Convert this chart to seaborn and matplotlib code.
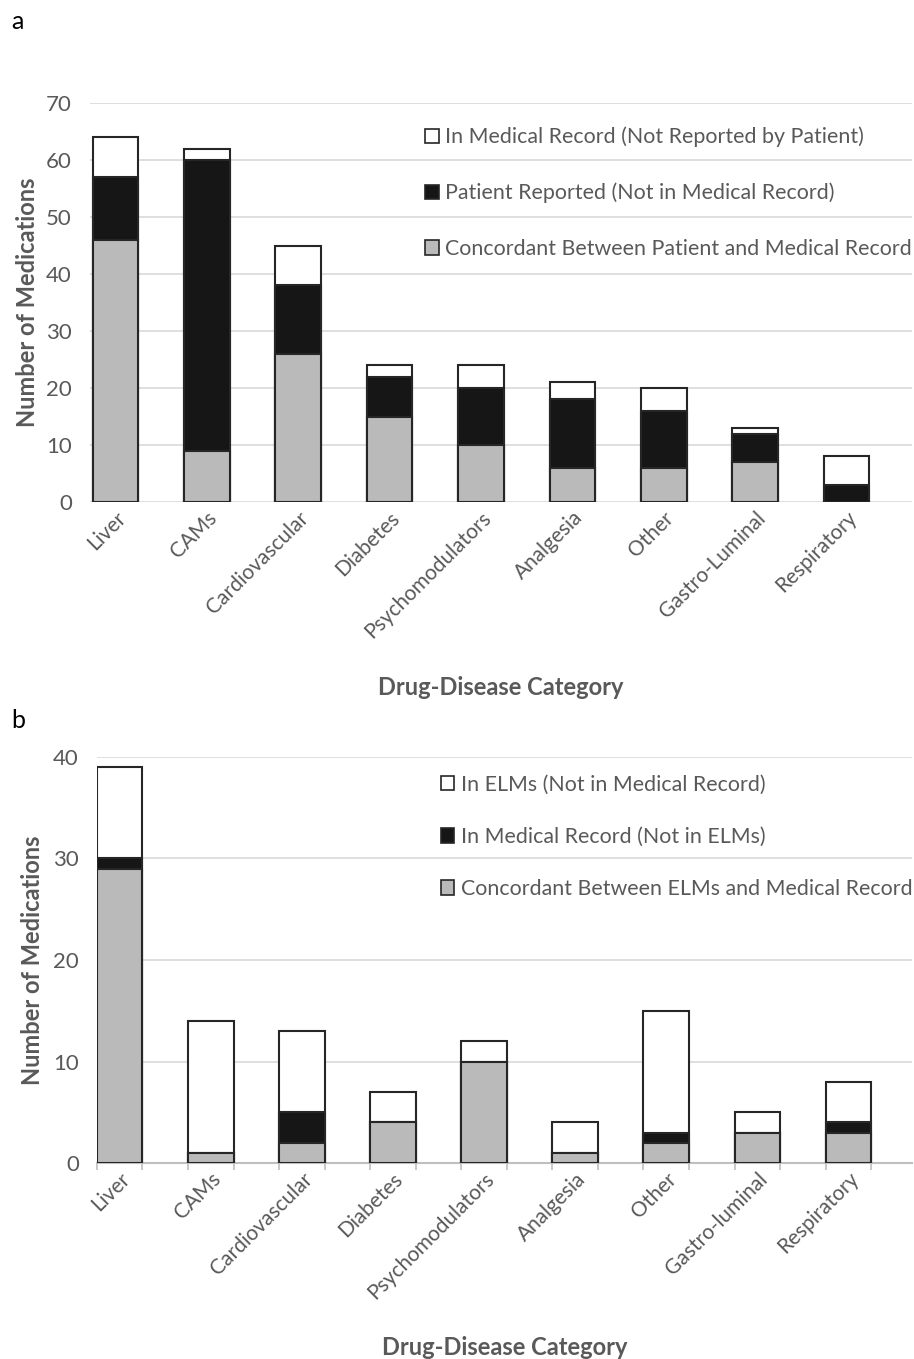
import matplotlib
matplotlib.use("Agg")
import matplotlib.pyplot as plt
import seaborn as sns
import pandas as pd
from matplotlib.patches import Patch

categories_a = ["Liver", "CAMs", "Cardiovascular", "Diabetes", "Psychomodulators",
                "Analgesia", "Other", "Gastro-Luminal", "Respiratory"]
concordant_a = [46, 9, 26, 15, 10, 6, 6, 7, 0]
patient_only_a = [11, 51, 12, 7, 10, 12, 10, 5, 3]
record_only_a = [7, 2, 7, 2, 4, 3, 4, 1, 5]
labels_a = ["In Medical Record (Not Reported by Patient)",
            "Patient Reported (Not in Medical Record)",
            "Concordant Between Patient and Medical Record"]

categories_b = ["Liver", "CAMs", "Cardiovascular", "Diabetes", "Psychomodulators",
                "Analgesia", "Other", "Gastro-luminal", "Respiratory"]
concordant_b = [29, 1, 2, 4, 10, 1, 2, 3, 3]
record_only_b = [1, 0, 3, 0, 0, 0, 1, 0, 1]
elms_only_b = [9, 13, 8, 3, 2, 3, 12, 2, 4]
labels_b = ["In ELMs (Not in Medical Record)",
            "In Medical Record (Not in ELMs)",
            "Concordant Between ELMs and Medical Record"]

sns.set_theme(style="white")
FONT = ["Lato", "DejaVu Sans"]
plt.rcParams["font.family"] = FONT

GRAY_TXT = "#595959"
C_WHITE, C_BLACK, C_GRAY = "#ffffff", "#161616", "#bababa"
EDGE = "#262626"
FS_TICK = 15
FS_LEG = 15.4
FS_LAB = 17

fig = plt.figure(figsize=(9.14, 13.59), dpi=100)


def draw(ax, cats, base, mid, top, ymax, ystep, xlim, bottom_axis):
    tot = [b + m + t for b, m, t in zip(base, mid, top)]
    bm = [b + m for b, m in zip(base, mid)]
    layers = [(tot, C_WHITE), (bm, C_BLACK), (base, C_GRAY)]
    for vals, col in layers:
        df = pd.DataFrame({"cat": cats, "val": vals})
        sns.barplot(data=df, x="cat", y="val", order=cats, color=col, saturation=1,
                    width=0.5, edgecolor=EDGE, linewidth=1.5, errorbar=None, ax=ax, zorder=3)
    ax.set_ylim(0, ymax)
    ax.set_yticks(range(0, ymax + 1, ystep))
    ax.set_xlim(*xlim)
    ax.yaxis.grid(True, color="#d9d9d9", linewidth=1.2, zorder=0)
    ax.set_axisbelow(True)
    for s in ["top", "right", "left"]:
        ax.spines[s].set_visible(False)
    if bottom_axis:
        ax.spines["bottom"].set_visible(True)
        ax.spines["bottom"].set_color("#bfbfbf")
        ax.spines["bottom"].set_linewidth(1.5)
        ax.set_xticks([i + d for i in range(len(cats)) for d in (-0.25, 0.25)], minor=True)
        ax.tick_params(axis="x", which="minor", bottom=True, length=5, color="#bfbfbf", width=1.2)
    else:
        ax.spines["bottom"].set_visible(False)
    ax.tick_params(axis="x", which="major", length=0, pad=4)
    ax.tick_params(axis="y", length=0, pad=13)
    ax.set_xticks(range(len(cats)))
    ax.set_xticklabels(cats, rotation=45, ha="right", rotation_mode="anchor",
                       fontsize=FS_TICK, color=GRAY_TXT)
    for t in ax.get_yticklabels():
        t.set_fontsize(16)
        t.set_color(GRAY_TXT)
    ax.set_ylabel("Number of Medications", fontsize=FS_LAB, fontweight="bold", color=GRAY_TXT)
    ax.set_xlabel("Drug-Disease Category", fontsize=FS_LAB, fontweight="bold", color=GRAY_TXT)
    handles = [Patch(facecolor=C_WHITE, edgecolor=EDGE, linewidth=1.2),
               Patch(facecolor=C_BLACK, edgecolor=EDGE, linewidth=1.2),
               Patch(facecolor=C_GRAY, edgecolor=EDGE, linewidth=1.2)]
    return handles


ax1 = fig.add_axes([0.0985, 0.6306, 0.8995, 0.2936])
h = draw(ax1, categories_a, concordant_a, patient_only_a, record_only_a,
         70, 10, (-0.28, 8.72), False)
ax1.legend(h, labels_a, loc="upper left", bbox_to_anchor=(0.397, 0.962), frameon=False,
           fontsize=FS_LEG, labelcolor=GRAY_TXT, handlelength=0.65, handleheight=0.65,
           handletextpad=0.3, labelspacing=1.66, borderaxespad=0)
ax1.yaxis.set_label_coords(-0.062, 0.5)
ax1.xaxis.set_label_coords(0.5, -0.435)

ax2 = fig.add_axes([0.106, 0.1442, 0.892, 0.2988])
h = draw(ax2, categories_b, concordant_b, record_only_b, elms_only_b,
         40, 10, (-0.25, 8.7), True)
ax2.legend(h, labels_b, loc="upper left", bbox_to_anchor=(0.411, 0.977), frameon=False,
           fontsize=FS_LEG, labelcolor=GRAY_TXT, handlelength=0.65, handleheight=0.65,
           handletextpad=0.3, labelspacing=1.5, borderaxespad=0)
ax2.yaxis.set_label_coords(-0.065, 0.5)
ax2.xaxis.set_label_coords(0.5, -0.425)

fig.text(0.012, 0.984, "a", fontsize=18, va="center", ha="left", color="#000000")
fig.text(0.012, 0.47, "b", fontsize=18, va="center", ha="left", color="#000000")

fig.savefig("out.png", dpi=100)
